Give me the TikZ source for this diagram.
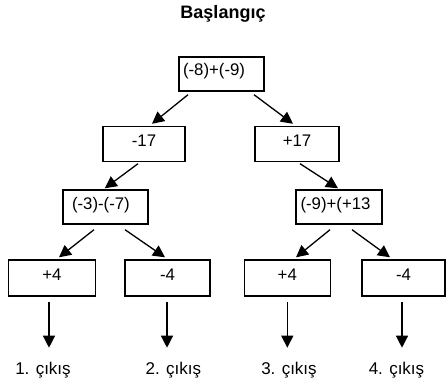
\documentclass[tikz,border=0pt]{standalone}
\usepackage{fontspec}
\setmainfont{Liberation Sans}
\usetikzlibrary{arrows.meta}

\tikzstyle {box} = [draw, line width=1.4pt, minimum width=85pt, minimum height=35pt, inner sep=3pt, text height=12pt, text depth=8pt, font=\fontsize{16.8}{18}\selectfont]
\tikzstyle {arrow} = [line width=1.3pt, -{Triangle[length=12pt,width=12pt]}]
\tikzstyle {exit} = [anchor=base, inner sep=0pt, font=\fontsize{17}{18}\selectfont]

\begin{document}
\begin{tikzpicture}[x=1pt,y=1pt]
            \useasboundingbox (0,0) rectangle (446,386);
            \node [anchor=base, font=\bfseries\fontsize{18}{20}\selectfont] (title) at (223,367.7) {Başlangıç};

            \node [box, minimum height=34pt, text width=77pt, align=left, inner xsep=4pt] (root) at (221.5,312) {(-8)+(-9)};
            \node [box, minimum width=82pt] (neg) at (144,242) {-17};
            \node [box, minimum width=84pt] (pos) at (297,242) {+17};
            \node [box, minimum height=34pt, text width=67pt, align=left, inner xsep=9pt] (left) at (105.5,179) {(-3)-(-7)};
            \node [box, minimum height=34pt, text width=77pt, align=left, inner xsep=4.5pt] (right) at (339,179) {(-9)+(+13};
            \node [box, minimum width=87pt, minimum height=36pt] (o1) at (52,108) {+4};
            \node [box, minimum height=36pt] (o2) at (167.5,108) {-4};
            \node [box, minimum width=86pt, minimum height=36pt] (o3) at (287.3,108) {+4};
            \node [box, minimum width=83pt, minimum height=36pt] (o4) at (403.5,108) {-4};

            \draw [arrow] ([xshift=-33.5pt,yshift=-3pt]root.south) -- ([xshift=8pt,yshift=2pt]neg.north);
            \draw [arrow] ([xshift=32.5pt,yshift=-3pt]root.south) -- ([xshift=-4pt,yshift=2pt]pos.north);
            \draw [arrow] ([xshift=-6pt,yshift=-1.5pt]neg.south) -- ([xshift=-0.7pt,yshift=1pt]left.north);
            \draw [arrow] ([xshift=3pt,yshift=-1.5pt]pos.south) -- ([xshift=-1pt,yshift=1pt]right.north);
            \draw [arrow] ([xshift=-11.5pt,yshift=-5pt]left.south) -- ([xshift=7pt,yshift=2pt]o1.north);
            \draw [arrow] ([xshift=19.5pt,yshift=-5pt]left.south) -- ([xshift=-2.5pt,yshift=2pt]o2.north);
            \draw [arrow] ([xshift=-9pt,yshift=-5pt]right.south) -- ([xshift=8.7pt,yshift=2pt]o3.north);
            \draw [arrow] ([xshift=13pt,yshift=-5pt]right.south) -- ([xshift=-13.5pt,yshift=2pt]o4.north);
            \foreach \n/\s in {o1/-3,o2/-0.5,o3/0,o4/-1.5}
                \draw [arrow] ([xshift=\s pt,yshift=-5.5pt]\n.south) -- ([xshift=\s pt,yshift=-51pt]\n.south);

            \node [exit] (c1) at (43,12) {1. çıkış};
            \node [exit] (c2) at (173.3,12) {2. çıkış};
            \node [exit] (c3) at (289,12) {3. çıkış};
            \node [exit] (c4) at (396.5,12) {4. çıkış};
        \end{tikzpicture}
\end{document}
